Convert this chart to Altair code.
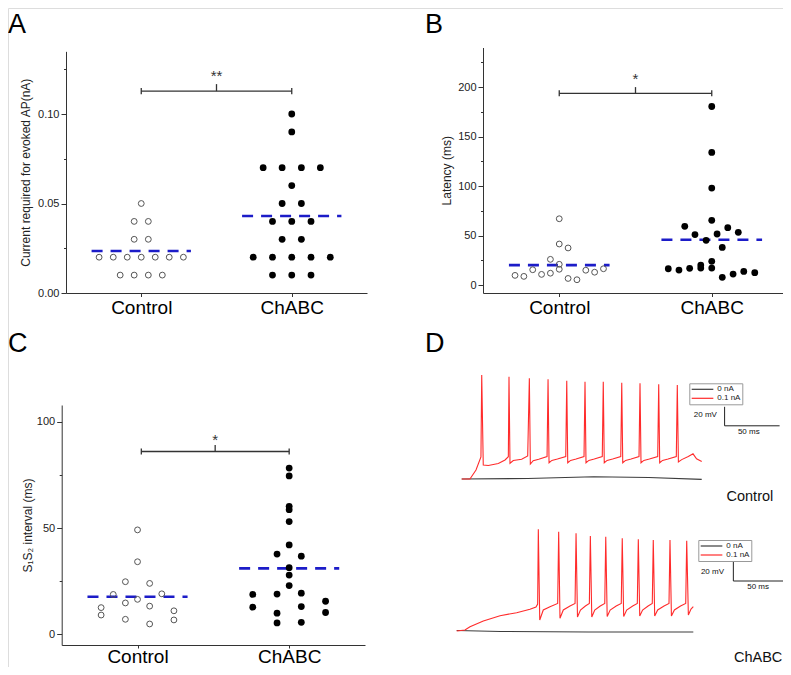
import altair as alt
import pandas as pd

FONT = "Liberation Sans"
W, H = 775, 659          # drawing area (page is 791x675 with an 8px margin)
MARGIN = 8
GROUPS = ["Control", "ChABC"]

# ---------------- Panel A : current required for evoked AP (nA)
a_ctrl_off = [0.0, -0.047, 0.047, -0.047, 0.047, -0.28, -0.186, -0.093, 0.0, 0.093, 0.186, 0.28,
              -0.14, -0.047, 0.047, 0.14]
a_ctrl_val = [0.05, 0.04, 0.04, 0.03, 0.03, 0.02, 0.02, 0.02, 0.02, 0.02, 0.02, 0.02,
              0.01, 0.01, 0.01, 0.01]
a_chabc_off = [0.0, 0.0, -0.19, -0.064, 0.064, 0.19, 0.0, -0.064, 0.064, -0.128, 0.0, 0.128,
               -0.064, 0.064, -0.256, -0.128, 0.0, 0.128, 0.256, -0.128, 0.0, 0.128]
a_chabc_val = [0.10, 0.09, 0.07, 0.07, 0.07, 0.07, 0.06, 0.05, 0.05, 0.04, 0.04, 0.04,
               0.03, 0.03, 0.02, 0.02, 0.02, 0.02, 0.02, 0.01, 0.01, 0.01]
a_means = [0.0235, 0.043]
a_bracket = [1.0, 2.0, 0.1128, 0.0017, 0.1167]   # left, right, level, end half-height, centre top
a_star = ["**", 1.5, 0.1187]

# ---------------- Panel B : latency (ms)
b_ctrl_off = [0.0, 0.0, 0.058, -0.058, 0.0, 0.0, -0.29, -0.232, -0.174, -0.116, -0.058, 0.058,
              0.116, 0.174, 0.232, 0.29]
b_ctrl_val = [67, 41.5, 37.5, 26, 21, 16, 9.8, 8.8, 15.5, 10.8, 12, 6.7, 5.4, 15, 13, 16.5]
b_chabc_off = [0.0, 0.0, 0.0, 0.0, -0.177, -0.11, -0.037, 0.035, 0.105, 0.174, 0.069, 0.0,
               -0.285, -0.215, -0.145, -0.072, -0.072, 0.0, 0.069, 0.14, 0.21, 0.282]
b_chabc_val = [180.4, 134, 98, 65.4, 59.4, 51, 45.2, 51.6, 58, 53.3, 38, 24,
               16.5, 15.2, 16.9, 20.2, 17.2, 17.2, 7.8, 11.1, 13.8, 12.5]
b_means = [20.2, 45.8]
b_bracket = [1.0, 2.0, 193.7, 3.0, 200.0]
b_star = ["*", 1.5, 203.5]

# ---------------- Panel C : S1S2 interval (ms)
c_ctrl_off = [0.0, 0.0, -0.08, 0.08, -0.16, 0.16, 0.0, -0.08, -0.24, 0.08, -0.24, 0.24,
              -0.08, 0.24, 0.08]
c_ctrl_val = [49.2, 34.2, 24.8, 24, 18.8, 19.1, 16.5, 14.8, 12.6, 13.3, 9.1, 11.1, 7.1, 6.8, 4.9]
c_chabc_off = [0.0, 0.0, 0.0, 0.0, 0.0, 0.0, -0.08, 0.08, 0.0, 0.0, 0.0, -0.24, -0.08, 0.08,
               0.24, -0.24, 0.08, -0.08, 0.24, -0.08, 0.08]
c_chabc_val = [78.3, 74.6, 60.3, 58.7, 53.1, 42.1, 37.8, 36.8, 31.4, 27.9, 23, 18.8, 19, 19.4,
               15.6, 12.8, 13.1, 10, 10.3, 5.4, 5.7]
c_means = [17.7, 31.1]
c_bracket = [1.025, 2.0, 86.1, 1.4, 89.2]
c_star = ["*", 1.512, 89.2]

# ---------------- Panel D : voltage traces (t in ms, v in mV above rest)
dc_red_t = [0, 7.5, 13, 17.5, 18.2, 19.6, 24.2, 33.3, 39.4, 42.4,
            43.0, 43.9, 46.9, 54.5, 60.0,
            61.5, 62.4, 65.0, 70.0, 77.6,
            78.5, 79.4, 82.0, 87.0, 94.6,
            95.5, 96.4, 99.0, 104.0, 111.2,
            112.1, 113.0, 115.6, 120.5, 127.8,
            128.7, 129.6, 132.2, 137.2, 144.6,
            145.5, 146.4, 149.0, 154.0, 161.2,
            162.1, 163.0, 165.6, 170.6, 178.2,
            179.1, 180.0, 182.6, 187.6, 195.1,
            196.0, 197.0, 200.0, 206.0, 210.3, 213.5, 218.2]
dc_red_v = [0, 0, 9.5, 23.2, 109.5, 14.7, 14.2, 16.3, 20.0, 23.5,
            107.7, 16.6, 19.5, 20.7, 24.2,
            106.0, 15.8, 19.2, 20.8, 23.7,
            104.9, 17.1, 19.6, 21.0, 23.7,
            103.4, 17.1, 19.6, 21.0, 23.7,
            102.4, 17.1, 19.6, 21.0, 23.7,
            102.4, 17.1, 19.6, 21.0, 23.7,
            101.4, 17.1, 19.6, 21.0, 23.7,
            100.8, 17.1, 19.6, 21.0, 23.7,
            99.7, 17.1, 19.6, 21.0, 23.7,
            99.0, 18.0, 20.4, 23.7, 26.5, 21.2, 18.4]
dc_blk_t = [0, 60, 120, 170, 218.2]
dc_blk_v = [0, 0.5, 2.4, 1.6, -0.4]
dc_bar = [[239, 239, 56, 76], [239, 289, 56, 56]]
dc_texts = [["20 mV", 232, 67.4, "right", 8], ["50 ms", 261, 49.5, "center", 8],
            ["Control", 262, -19, "center", 14.5]]

db_red_t = [0, 7.5, 12.1, 24.2, 39.4, 54.5, 66.6, 72.1, 73.6,
            74.2, 75.5, 78.7, 84.8, 91.8,
            92.7, 93.9, 96.9, 103.0, 107.6,
            108.5, 109.8, 112.5, 117.0, 120.6,
            121.5, 122.8, 125.5, 130.5, 134.6,
            135.5, 136.8, 139.5, 145.0, 149.6,
            150.5, 151.8, 154.5, 160.0, 164.2,
            165.1, 166.4, 169.0, 174.0, 177.8,
            178.7, 180.0, 182.7, 188.5, 193.0,
            193.9, 195.2, 197.9, 203.5, 208.2,
            209.1, 210.6, 213.0, 215.1]
db_red_v = [0, 1, 4.3, 10, 15.3, 18.3, 21.7, 24, 27,
            101.7, 11, 21, 24.3, 27.5,
            99.3, 12.7, 21, 25, 27.5,
            97.7, 14, 21, 25, 27.5,
            95.0, 14, 21, 25, 27.5,
            94.3, 14.5, 21, 25, 27.5,
            92.7, 14.5, 21, 25, 27.5,
            91.7, 15, 21, 25, 27.5,
            91.0, 15, 21, 25, 27.5,
            91.0, 15, 21, 25, 27.5,
            90.3, 16, 22, 24.3]
db_blk_t = [0, 40, 120, 215.1]
db_blk_v = [0.5, -0.5, -1.0, -1.0]
db_bar = [[251.5, 251.5, 50, 70], [251.5, 301.5, 50, 50]]
db_texts = [["20 mV", 243, 59.3, "right", 8], ["50 ms", 274, 44, "center", 8],
            ["ChABC", 274, -27, "center", 14.5]]

SERIES = ["0 nA", "0.1 nA"]


def c(v):
    """image pixel -> drawing-area pixel"""
    return v - MARGIN


def scatter_panel(ctrl_off, ctrl_val, chabc_off, chabc_val, means, bracket, star,
                  ydom, xr, yr, ymajor, yminor, yfmt, ytitle, tpad, tick_size, lab_pad):
    xs = alt.Scale(domain=[0.5, 2.5], range=[c(xr[0]), c(xr[1])], nice=False, zero=False)
    ys = alt.Scale(domain=ydom, range=[c(yr[0]), c(yr[1])], nice=False, zero=False)
    x_axis = alt.Axis(orient="bottom", offset=c(yr[0]) - H, values=[1, 2],
                      labelExpr=f"datum.value == 1 ? '{GROUPS[0]}' : '{GROUPS[1]}'",
                      title=None, grid=False, tickSize=tick_size, labelFontSize=19,
                      labelColor="black", labelPadding=lab_pad, domainColor="#333",
                      tickColor="#333", labelFont=FONT, labelFlush=False, labelOverlap=False)
    y_major = alt.Axis(orient="left", offset=-c(xr[0]), values=ymajor, format=yfmt,
                       title=ytitle, grid=False, tickSize=5, labelFontSize=11,
                       labelColor="#222", labelPadding=2, labelFont=FONT,
                       titleFont=FONT, titleFontSize=12, titleFontWeight="normal",
                       titleColor="#222", titlePadding=tpad, domainColor="#333",
                       tickColor="#333", labelFlush=False, labelOverlap=False)
    y_minor = alt.Axis(orient="left", offset=-c(xr[0]), values=yminor, labels=False,
                       domain=False, tickSize=2.5, title=None, grid=False, tickColor="#333")

    ctrl = pd.DataFrame({"g": 1.0, "off": ctrl_off, "val": ctrl_val})
    chab = pd.DataFrame({"g": 2.0, "off": chabc_off, "val": chabc_val})
    pts_c = alt.Chart(ctrl).transform_calculate(xp="datum.g + datum.off").mark_point(
        shape="circle", filled=False, size=34, stroke="#555", strokeWidth=1, opacity=1
    ).encode(x=alt.X("xp:Q", scale=xs, axis=x_axis),
             y=alt.Y("val:Q", scale=ys, axis=y_major))
    pts_b = alt.Chart(chab).transform_calculate(xp="datum.g + datum.off").mark_circle(
        size=46, color="black", opacity=1
    ).encode(x=alt.X("xp:Q", scale=xs, axis=None),
             y=alt.Y("val:Q", scale=ys, axis=None))

    mdf = pd.DataFrame({"g": [1.0, 2.0], "m": means})
    mean_l = alt.Chart(mdf).transform_calculate(
        lo="datum.g - 0.33", hi="datum.g + 0.33"
    ).mark_rule(color="#1c1cc8", strokeWidth=2.6, strokeDash=[11, 8]).encode(
        x=alt.X("lo:Q", scale=xs, axis=None), x2="hi:Q",
        y=alt.Y("m:Q", scale=ys, axis=y_minor))

    left, right, lvl, d, top = bracket
    hdf = pd.DataFrame({"a": [left], "b": [right], "y": [lvl]})
    br_h = alt.Chart(hdf).mark_rule(color="#333", strokeWidth=1.3).encode(
        x=alt.X("a:Q", scale=xs, axis=None), x2="b:Q",
        y=alt.Y("y:Q", scale=ys, axis=None))
    vdf = pd.DataFrame({"x": [left, right, star[1]],
                        "y1": [lvl - d, lvl - d, lvl],
                        "y2": [lvl + d, lvl + d, top]})
    br_v = alt.Chart(vdf).mark_rule(color="#333", strokeWidth=1.3).encode(
        x=alt.X("x:Q", scale=xs, axis=None),
        y=alt.Y("y1:Q", scale=ys, axis=None), y2="y2:Q")
    sdf = pd.DataFrame({"s": [star[0]], "x": [star[1]], "y": [star[2]]})
    st = alt.Chart(sdf).mark_text(fontSize=15, font=FONT, color="#333", align="center",
                                  baseline="alphabetic").encode(
        x=alt.X("x:Q", scale=xs, axis=None), y=alt.Y("y:Q", scale=ys, axis=None), text="s:N")

    return alt.layer(mean_l, pts_c, pts_b, br_h, br_v, st).resolve_axis(
        x="independent", y="independent")


def trace_panel(red_t, red_v, blk_t, blk_v, xdom, xr, ydom, yr, bar, texts, legend_xy):
    xs = alt.Scale(domain=xdom, range=[c(xr[0]), c(xr[1])], nice=False, zero=False)
    ys = alt.Scale(domain=ydom, range=[c(yr[0]), c(yr[1])], nice=False, zero=False)
    rows = []
    for i, (t, v) in enumerate(zip(blk_t, blk_v)):
        rows.append({"s": SERIES[0], "t": t, "v": v, "i": i})
    for i, (t, v) in enumerate(zip(red_t, red_v)):
        rows.append({"s": SERIES[1], "t": t, "v": v, "i": 1000 + i})
    df = pd.DataFrame(rows)
    legend = alt.Legend(orient="none", legendX=c(legend_xy[0]), legendY=c(legend_xy[1]),
                        title=None, symbolType="M-1,0H5", symbolSize=52,
                        symbolStrokeWidth=1.2, labelFontSize=8, labelFont=FONT,
                        labelColor="#222", padding=1.5, rowPadding=0, labelOffset=17.5,
                        strokeColor="#999", fillColor="white", cornerRadius=0)
    lines = alt.Chart(df).mark_line(strokeWidth=1.1).encode(
        x=alt.X("t:Q", scale=xs, axis=None),
        y=alt.Y("v:Q", scale=ys, axis=None),
        color=alt.Color("s:N", scale=alt.Scale(domain=SERIES, range=["#3c3c3c", "#ff2b2b"]),
                        legend=legend),
        order="i:Q")
    bdf = pd.DataFrame(bar, columns=["t1", "t2", "v1", "v2"])
    bars = alt.Chart(bdf).mark_rule(color="#222", strokeWidth=1).encode(
        x=alt.X("t1:Q", scale=xs, axis=None), x2="t2:Q",
        y=alt.Y("v1:Q", scale=ys, axis=None), y2="v2:Q")
    layers = [lines, bars]
    for txt, t, v, al, fs in texts:
        tdf = pd.DataFrame({"s": [txt], "t": [t], "v": [v]})
        layers.append(alt.Chart(tdf).mark_text(fontSize=fs, font=FONT, color="#111",
                                               align=al, baseline="middle").encode(
            x=alt.X("t:Q", scale=xs, axis=None), y=alt.Y("v:Q", scale=ys, axis=None),
            text="s:N"))
    return alt.layer(*layers)


panel_a = scatter_panel(a_ctrl_off, a_ctrl_val, a_chabc_off, a_chabc_val, a_means, a_bracket,
                        a_star, [0, 0.135], [66, 367], [293, 51.35],
                        [0, 0.05, 0.10], [0.025, 0.075, 0.125], ".2f",
                        "Current required for evoked AP(nA)", 5, 3.5, 2)
panel_b = scatter_panel(b_ctrl_off, b_ctrl_val, b_chabc_off, b_chabc_val, b_means, b_bracket,
                        b_star, [-8, 240], [483, 788], [293, 47.5],
                        [0, 50, 100, 150, 200], [25, 75, 125, 175, 225], "d",
                        "Latency (ms)", 4, 3.5, 2)
panel_c = scatter_panel(c_ctrl_off, c_ctrl_val, c_chabc_off, c_chabc_val, c_means, c_bracket,
                        c_star, [-5, 108], [61.7, 365], [645, 405],
                        [0, 50, 100], [25, 75], "d",
                        "S\u2081S\u2082 interval (ms)", 1.5, 3, -1)
panel_d1 = trace_panel(dc_red_t, dc_red_v, dc_blk_t, dc_blk_v, [0, 300], [461.7, 791.7],
                       [-10, 140], [488.5, 346], dc_bar, dc_texts, [689.3, 383.3])
panel_d2 = trace_panel(db_red_t, db_red_v, db_blk_t, db_blk_v, [0, 340], [456.7, 830.7],
                       [-10, 110], [641, 521], db_bar, db_texts, [698.3, 540])

letters = []
for lab, lx, ly in [("A", 8, 33), ("B", 425, 33), ("C", 8, 352), ("D", 425, 352)]:
    letters.append(alt.Chart(pd.DataFrame({"k": [lab]})).mark_text(
        fontSize=27, font=FONT, color="black", align="left", baseline="alphabetic"
    ).encode(x=alt.value(c(lx)), y=alt.value(c(ly)), text="k:N"))

chart = alt.layer(panel_a, panel_b, panel_c, panel_d1, panel_d2, *letters).resolve_scale(
    x="independent", y="independent", color="independent"
).properties(
    width=W, height=H, padding=0, autosize=alt.AutoSizeParams(type="none"),
    background="white"
).configure_view(stroke=None).configure(font=FONT)

chart.save("out.html", embed_options={"renderer": "svg", "actions": False})
